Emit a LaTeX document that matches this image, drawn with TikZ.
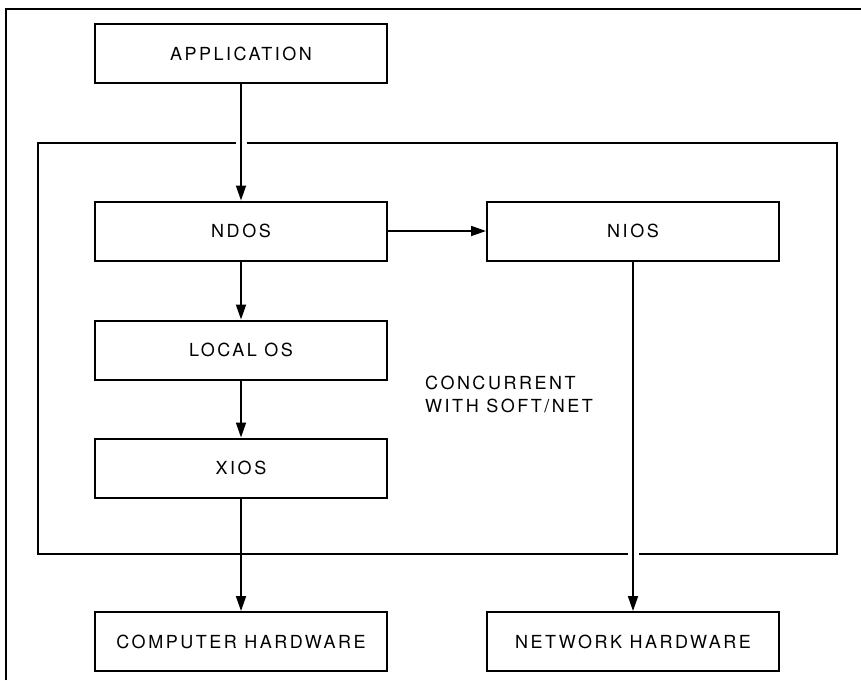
\documentclass[tikz,border=0pt]{standalone}
\usepackage{fontspec}
\setmainfont{TeX Gyre Heros}[LetterSpace=14]
\usetikzlibrary{arrows.meta}
\tikzset{
  blk/.style={draw=black, line width=2pt, minimum width=292pt, minimum height=59pt, inner sep=0pt, font=\fontsize{18}{23}\selectfont},
  conn/.style={line width=1.8pt, -{Triangle[length=15pt,width=10pt]}},
  gap/.style={draw=white, line width=11pt},
  frame/.style={line width=2pt},
  cont/.style={line width=1.6pt}
}
\begin{document}
\begin{tikzpicture}[x=1pt,y=-1pt]
\useasboundingbox (0,0) rectangle (861,680);
% partial outer frame
\coordinate (fa) at (6,680);
\coordinate (fb) at (6,9);
\coordinate (fc) at (861,9);
\draw[frame] (fa) -- (fb) -- (fc);
% container
\draw[cont] (38,143) rectangle (837,554);
% boxes
\node[blk] (app) at (241,53.5) {APPLICATION};
\node[blk] (ndos) at (241,231) {NDOS};
\node[blk] (nios) at (633,231) {NIOS};
\node[blk] (los) at (241,350) {LOCAL OS};
\node[blk] (xios) at (241,468) {XIOS};
\node[blk] (chw) at (241,641.5) {COMPUTER HARDWARE};
\node[blk] (nhw) at (633,641.5) {NETWORK HARDWARE};
\node[anchor=north west, align=left, inner sep=0pt, font=\fontsize{18}{23}\selectfont] (conc) at (425,376) {CONCURRENT\\WITH SOFT/NET};
% gaps where connectors cross the container
\path[gap] (app.south) -- (ndos.north);
\path[gap] (nios.south) -- (nhw.north);
% connectors
\draw[conn] (app.south) -- (ndos.north);
\draw[conn] (ndos.east) -- (nios.west);
\draw[conn] (ndos.south) -- (los.north);
\draw[conn] (los.south) -- (xios.north);
\draw[conn] (xios.south) -- (chw.north);
\draw[conn] (nios.south) -- (nhw.north);
\end{tikzpicture}
\end{document}
